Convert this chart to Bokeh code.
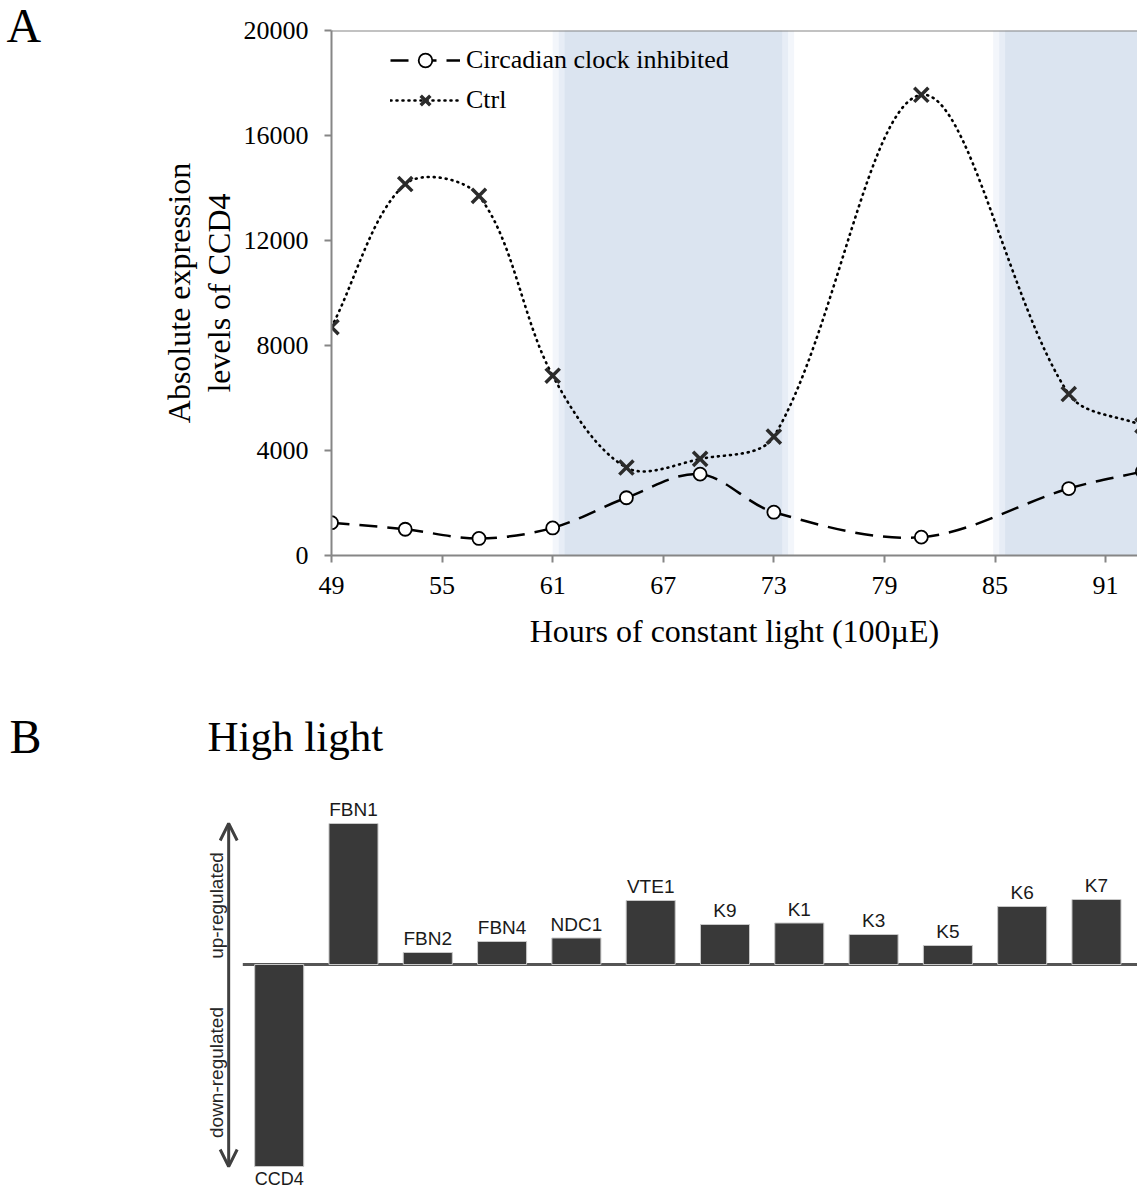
import numpy as np
from bokeh.plotting import figure
from bokeh.models import (ColumnDataSource, Legend, LegendItem, Span, Label, FixedTicker,
                          Arrow, OpenHead, Range1d)
from bokeh.embed import file_html
from bokeh.resources import INLINE
from bokeh.core.properties import value

# ---------------- Panel A data ----------------
hours = [49, 53, 57, 61, 65, 69, 73, 81, 89, 93]
clock_inhibited = [1250, 1000, 650, 1050, 2200, 3100, 1650, 700, 2550, 3200]
ctrl = [8700, 14150, 13700, 6850, 3350, 3680, 4530, 17550, 6150, 4950]
x_ticks = [49, 55, 61, 67, 73, 79, 85, 91]
y_ticks = [0, 4000, 8000, 12000, 16000, 20000]
night_start = [61.0, 84.9]
night_end = [74.1, 98.0]

# ---------------- Panel B data ----------------
genes = ["CCD4", "FBN1", "FBN2", "FBN4", "NDC1", "VTE1", "K9", "K1", "K3", "K5", "K6", "K7"]
regulation = [-20.2, 14.1, 1.2, 2.3, 2.65, 6.4, 4.0, 4.15, 3.0, 1.9, 5.8, 6.5]

SERIF = "Liberation Serif"
SANS = "Liberation Sans"

A_W, A_H = 1137, 663
A_LEFT, A_TOP, A_BOTTOM = 331, 30, 108
X0, X1 = 49, 92.73
Y0, Y1 = 0, 20000


def smooth_segments(xs, ys, sx, sy):
    """Bezier control points of a smoothed line through the data points
    (tangents weighted by on-screen segment lengths)."""
    xs = np.asarray(xs, float)
    ys = np.asarray(ys, float)
    n = len(xs)
    d = np.hypot(np.diff(xs) * sx, np.diff(ys) * sy)
    i = np.arange(n - 1)
    im1 = np.maximum(i - 1, 0)
    ip2 = np.minimum(i + 2, n - 1)
    d_prev = np.where(i > 0, d[np.maximum(i - 1, 0)], 0.0)
    d_next = np.where(i + 1 < n - 1, d[np.minimum(i + 1, n - 2)], 0.0)
    f0 = d / (3.0 * (d_prev + d))
    f1 = d / (3.0 * (d + d_next))
    return dict(
        x0=xs[:-1], y0=ys[:-1], x1=xs[1:], y1=ys[1:],
        cx0=xs[i] + (xs[i + 1] - xs[im1]) * f0,
        cy0=ys[i] + (ys[i + 1] - ys[im1]) * f0,
        cx1=xs[i + 1] - (xs[ip2] - xs[i]) * f1,
        cy1=ys[i + 1] - (ys[ip2] - ys[i]) * f1,
    )


# ================= Panel A =================
pA = figure(width=A_W, height=A_H, x_range=Range1d(X0, X1), y_range=Range1d(Y0, Y1),
            output_backend="svg", toolbar_location=None,
            min_border_left=A_LEFT, min_border_right=0, min_border_top=A_TOP,
            min_border_bottom=A_BOTTOM)
pA.xgrid.visible = False
pA.ygrid.visible = False
pA.outline_line_color = None

# subjective-night shading with soft edges
for inset, col in zip([0.0, 0.33, 0.65], ["#f3f6fb", "#e7edf6", "#dbe4f0"]):
    pA.quad(left=[s + inset for s in night_start], right=[e - inset for e in night_end],
            bottom=Y0, top=Y1, fill_color=col, line_color=None)

pA.add_layout(Span(location=Y1, dimension="width", line_color="#868686", line_width=2))

sx = (A_W - A_LEFT) / (X1 - X0)
sy = (A_H - A_TOP - A_BOTTOM) / (Y1 - Y0)
src_c = ColumnDataSource(smooth_segments(hours, clock_inhibited, sx, sy))
src_x = ColumnDataSource(smooth_segments(hours, ctrl, sx, sy))
dash_c = "18 10"
dash_x = "1 5"
pA.bezier(x0="x0", y0="y0", x1="x1", y1="y1", cx0="cx0", cy0="cy0", cx1="cx1", cy1="cy1",
          source=src_c, line_color="black", line_width=2.5, line_dash=dash_c)
pA.bezier(x0="x0", y0="y0", x1="x1", y1="y1", cx0="cx0", cy0="cy0", cx1="cx1", cy1="cy1",
          source=src_x, line_color="black", line_width=2.6, line_dash=dash_x, line_cap="round")

sc_c = pA.scatter(hours, clock_inhibited, marker="circle", size=13, fill_color="white",
                  line_color="black", line_width=1.8)
sc_x = pA.scatter(hours, ctrl, marker="x", size=20, line_color="#2b2b2b", line_width=3.5)

# hidden line renderers used only for the legend samples
leg_c = pA.line(hours, clock_inhibited, line_color="black", line_width=2.5, line_dash=dash_c,
                visible=False)
leg_x = pA.line(hours, ctrl, line_color="black", line_width=2.6, line_dash=dash_x,
                line_cap="round", visible=False)

legend = Legend(items=[LegendItem(label="Circadian clock inhibited", renderers=[leg_c, sc_c]),
                       LegendItem(label="Ctrl", renderers=[leg_x, sc_x])],
                location=(59, 438), glyph_width=70, glyph_height=34, label_height=34,
                label_standoff=6, spacing=6, padding=0, margin=0,
                border_line_color=None, background_fill_alpha=0,
                label_text_font=SERIF, label_text_font_size="26px", label_text_color="black")
pA.add_layout(legend)

pA.xaxis.ticker = FixedTicker(ticks=x_ticks)
pA.yaxis.ticker = FixedTicker(ticks=y_ticks)
for ax in pA.axis:
    ax.axis_line_color = "#868686"
    ax.axis_line_width = 2
    ax.major_tick_line_color = "#868686"
    ax.major_tick_line_width = 2
    ax.major_tick_out = 7
    ax.major_tick_in = 0
    ax.minor_tick_out = 0
    ax.minor_tick_in = 0
    ax.major_label_text_font = SERIF
    ax.major_label_text_font_size = "26px"
    ax.major_label_text_color = "black"
    ax.axis_label_text_font = SERIF
    ax.axis_label_text_font_size = "32px"
    ax.axis_label_text_font_style = "normal"
    ax.axis_label_text_color = "black"
pA.xaxis.major_label_standoff = 14
pA.yaxis.major_label_standoff = 16
pA.xaxis.axis_label = "Hours of constant light (100µE)"
pA.yaxis.axis_label = "Absolute expression\nlevels of CCD4"
pA.yaxis.axis_label_text_line_height = 1.1
pA.xaxis.axis_label_standoff = 16
pA.yaxis.axis_label_standoff = 4

# panel letter, placed in the left border panel
pA.add_layout(Label(x=-116, y=(A_H - A_TOP - A_BOTTOM) + A_TOP - 25, x_units="screen",
                    y_units="screen", text="A", text_font=SERIF, text_font_size="48px",
                    text_baseline="middle", text_color="black"), "left")

# ================= Panel B =================
B_H = 526
pB = figure(width=A_W, height=B_H, x_range=Range1d(-3.751, 11.552), y_range=Range1d(-22.5, 30.1),
            output_backend="svg", toolbar_location=None, min_border=0,
            x_axis_type=None, y_axis_type=None)
pB.xgrid.visible = False
pB.ygrid.visible = False
pB.outline_line_color = None

idx = list(range(len(genes)))
bar_w = 0.66
pB.segment(x0=[idx[0] - 0.49], y0=[0], x1=[pB.x_range.end], y1=[0],
           line_color="#555555", line_width=3)
pB.vbar(x=idx, top=regulation, bottom=0, width=bar_w, fill_color="#393939",
        line_color="#c8c8c8", line_width=1)

pB.text(x=[i for i, v in zip(idx, regulation) if v >= 0],
        y=[v + 1.4 for v in regulation if v >= 0],
        text=[g for g, v in zip(genes, regulation) if v >= 0],
        text_font=value(SANS), text_font_size="19px", text_align="center",
        text_baseline="middle", text_color="#1a1a1a")
pB.text(x=[i for i, v in zip(idx, regulation) if v < 0],
        y=[v - 0.25 for v in regulation if v < 0],
        text=[g for g, v in zip(genes, regulation) if v < 0],
        text_font=value(SANS), text_font_size="18px", text_align="center",
        text_baseline="top", text_color="#1a1a1a")

arrow_x = idx[0] - 0.68
pB.add_layout(Arrow(x_start=arrow_x, y_start=min(regulation), x_end=arrow_x, y_end=max(regulation),
                    start=OpenHead(size=17, line_width=3, line_color="#404040"),
                    end=OpenHead(size=17, line_width=3, line_color="#404040"),
                    line_width=3, line_color="#404040"))
pB.text(x=[arrow_x - 0.165, arrow_x - 0.165], y=[5.9, -10.8],
        text=["up-regulated", "down-regulated"], angle=np.pi / 2,
        text_font=value(SANS), text_font_size="19px", text_align="center",
        text_baseline="middle", text_color="#262626")

pB.add_layout(Label(x=9, y=B_H - (736 - 663), x_units="screen", y_units="screen", text="B",
                    text_font=SERIF, text_font_size="48px", text_baseline="middle",
                    text_color="black"))
pB.add_layout(Label(x=207, y=B_H - (736 - 663), x_units="screen", y_units="screen",
                    text="High light", text_font=SERIF, text_font_size="43px",
                    text_baseline="middle", text_color="black"))

open("out.html", "w").write(file_html([pA, pB], INLINE))
